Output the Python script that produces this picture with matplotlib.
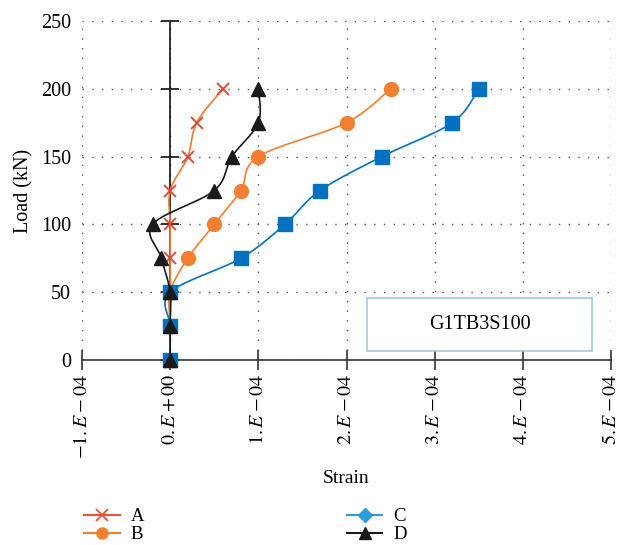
import matplotlib
matplotlib.use("Agg")
import matplotlib.pyplot as plt
import numpy as np
from matplotlib.lines import Line2D
from matplotlib.patches import Rectangle

# Load steps (kN) and strain readings for the four gauges
load = [0, 25, 50, 75, 100, 125, 150, 175, 200]
strain_a = [0, 0, 0, 0, 0, 0, 0.2e-4, 0.3e-4, 0.6e-4]
strain_b = [0, 0, 0, 0.2e-4, 0.5e-4, 0.8e-4, 1.0e-4, 2.0e-4, 2.5e-4]
strain_c = [0, 0, 0, 0.8e-4, 1.3e-4, 1.7e-4, 2.4e-4, 3.2e-4, 3.5e-4]
strain_d = [0, 0, 0, -0.1e-4, -0.2e-4, 0.5e-4, 0.7e-4, 1.0e-4, 1.0e-4]

x_ticks = [-1e-4, 0, 1e-4, 2e-4, 3e-4, 4e-4, 5e-4]
x_labels = [r'$-1.E-04$', r'$0.E+00$', r'$1.E-04$', r'$2.E-04$',
            r'$3.E-04$', r'$4.E-04$', r'$5.E-04$']
y_ticks = [0, 50, 100, 150, 200, 250]

plt.rcParams['font.family'] = ['Liberation Serif', 'DejaVu Serif']
plt.rcParams['mathtext.fontset'] = 'stix'


# Smooth line through the points (like Excel's smoothed lines)
def smooth(x, y, n=16):
    x = np.asarray(x, float)
    y = np.asarray(y, float)
    px = np.concatenate([[x[0]], x, [x[-1]]])
    py = np.concatenate([[y[0]], y, [y[-1]]])
    t = np.linspace(0, 1, n)[:, None]
    xs, ys = [], []
    for i in range(1, len(px) - 2):
        p0, p1, p2, p3 = (np.array([px[j], py[j]]) for j in range(i - 1, i + 3))
        seg = 0.5 * ((2 * p1) + (-p0 + p2) * t + (2 * p0 - 5 * p1 + 4 * p2 - p3) * t ** 2
                     + (-p0 + 3 * p1 - 3 * p2 + p3) * t ** 3)
        xs.extend(seg[:, 0])
        ys.extend(seg[:, 1])
    return xs, ys


fig = plt.figure(figsize=(6.27, 5.45), dpi=100)
ax = fig.add_axes([0.1308, 0.3394, 0.8437, 0.6221])

ax.set_xlim(-1e-4, 5e-4)
ax.set_ylim(0, 250)

ax.grid(True, color='#555555', linestyle=(0, (1, 6)), linewidth=1.0)
ax.set_axisbelow(True)

for s in ['left', 'top', 'right']:
    ax.spines[s].set_visible(False)
ax.spines['bottom'].set_color('#333333')
ax.spines['bottom'].set_linewidth(1.2)

# vertical axis through zero strain with its own tick marks
ax.axvline(0, color='#222222', lw=1.3, zorder=2)
ax.plot([0] * len(y_ticks), y_ticks, ls='none', marker='_', ms=13, mew=1.3,
        color='#222222', zorder=2, clip_on=False)

series = [
    (strain_a, '#F07A35', 'x', '#E8412C', 9, 1.3),
    (strain_b, '#F47F30', 'o', '#F47F30', 10, 1.0),
    (strain_c, '#0070C0', 's', '#0070C0', 10, 1.0),
    (strain_d, '#1A1A1A', '^', '#1A1A1A', 10.5, 1.0),
]
for i, (xs, lc, mk, mc, ms, mew) in enumerate(series):
    sx, sy = smooth(xs, load)
    ax.plot(sx, sy, color=lc, lw=1.2, zorder=3 + i)
    ax.plot(xs, load, ls='none', marker=mk, ms=ms, mew=mew, color=mc,
            zorder=3 + i, clip_on=False)

ax.set_xticks(x_ticks)
ax.set_xticklabels(x_labels, rotation=90, fontsize=14.5)
ax.set_yticks(y_ticks)
ax.tick_params(axis='x', direction='inout', length=14, width=1.2, color='#333333', pad=3)
ax.tick_params(axis='y', length=0, pad=8, labelsize=14.5)

ax.set_xlabel('Strain', fontsize=14, labelpad=8)
ax.set_ylabel('Load (kN)', fontsize=14.5, labelpad=5)

# specimen label box
ax.add_patch(Rectangle((0.539, 0.027), 0.425, 0.156, transform=ax.transAxes,
                       facecolor='white', edgecolor='#9DCBE8', lw=1.2, zorder=10))
ax.text(0.7515, 0.105, 'G1TB3S100', transform=ax.transAxes, fontsize=14.5,
        ha='center', va='center', zorder=11)

handles = [
    Line2D([], [], color='#E8553A', marker='x', ms=9, mew=1.3, lw=1.5),
    Line2D([], [], color='#F47F30', marker='o', ms=8, lw=1.5),
    Line2D([], [], color='#2E9BD6', marker='D', ms=7, lw=1.5),
    Line2D([], [], color='#1A1A1A', marker='^', ms=8, lw=1.5),
]
fig.legend(handles, ['A', 'B', 'C', 'D'], ncol=2, loc='upper left',
           bbox_to_anchor=(0.116, 0.088), frameon=False, fontsize=13.5,
           handlelength=1.9, handletextpad=0.6, columnspacing=10.8,
           labelspacing=0.05, borderaxespad=0.2)

fig.savefig('out.png', dpi=100)
